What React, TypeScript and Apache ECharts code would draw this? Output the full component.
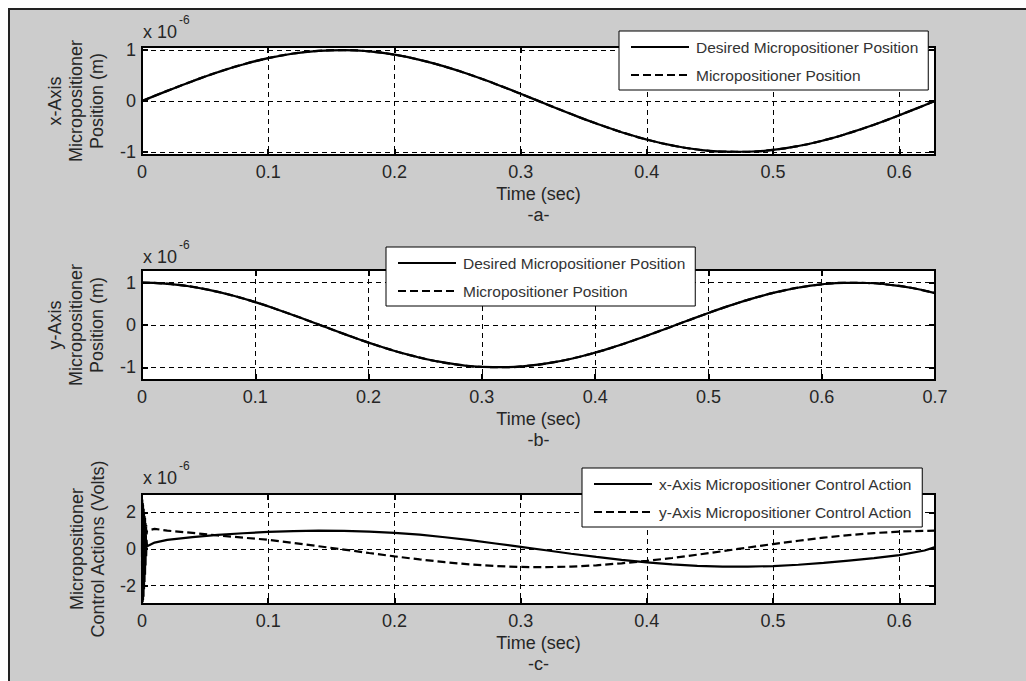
import React, { useEffect, useRef } from "react";
import * as echarts from "echarts";

// ---------- data ----------
const tA = [0, 0.02, 0.04, 0.06, 0.08, 0.1, 0.12, 0.14, 0.16, 0.18, 0.2, 0.22, 0.24, 0.26, 0.28, 0.3, 0.32, 0.34, 0.36, 0.38, 0.4, 0.42, 0.44, 0.46, 0.48, 0.5, 0.52, 0.54, 0.56, 0.58, 0.6, 0.62, 0.6283];
const xDesired = [0, 0.199, 0.389, 0.565, 0.717, 0.841, 0.932, 0.985, 1.0, 0.974, 0.909, 0.808, 0.675, 0.516, 0.335, 0.141, -0.058, -0.256, -0.443, -0.612, -0.757, -0.872, -0.952, -0.994, -0.996, -0.959, -0.883, -0.773, -0.631, -0.465, -0.279, -0.083, 0];
const xActual = [0, 0.199, 0.389, 0.565, 0.717, 0.841, 0.932, 0.985, 1.0, 0.974, 0.909, 0.808, 0.675, 0.516, 0.335, 0.141, -0.058, -0.256, -0.443, -0.612, -0.757, -0.872, -0.952, -0.994, -0.996, -0.959, -0.883, -0.773, -0.631, -0.465, -0.279, -0.083, 0];

const tB = [0, 0.02, 0.04, 0.06, 0.08, 0.1, 0.12, 0.14, 0.16, 0.18, 0.2, 0.22, 0.24, 0.26, 0.28, 0.3, 0.32, 0.34, 0.36, 0.38, 0.4, 0.42, 0.44, 0.46, 0.48, 0.5, 0.52, 0.54, 0.56, 0.58, 0.6, 0.62, 0.64, 0.66, 0.68, 0.7];
const yDesired = [1, 0.98, 0.921, 0.825, 0.697, 0.54, 0.362, 0.17, -0.029, -0.227, -0.416, -0.589, -0.737, -0.857, -0.942, -0.99, -0.998, -0.967, -0.897, -0.791, -0.654, -0.49, -0.307, -0.112, 0.087, 0.284, 0.469, 0.635, 0.776, 0.886, 0.96, 0.996, 0.993, 0.951, 0.874, 0.754];
const yActual = [1, 0.98, 0.921, 0.825, 0.697, 0.54, 0.362, 0.17, -0.029, -0.227, -0.416, -0.589, -0.737, -0.857, -0.942, -0.99, -0.998, -0.967, -0.897, -0.791, -0.654, -0.49, -0.307, -0.112, 0.087, 0.284, 0.469, 0.635, 0.776, 0.886, 0.96, 0.996, 0.993, 0.951, 0.874, 0.754];

const burstT = [0, 0.0002, 0.0004, 0.0006, 0.0008, 0.001, 0.0012, 0.0014, 0.0016, 0.0018, 0.002, 0.0022, 0.0024, 0.0026, 0.0028, 0.003, 0.0033, 0.0036];
const xCtrlBurst = [0, 2.7, -2.9, 2.5, -2.8, 2.2, -2.6, 1.9, -2.2, 1.6, -1.8, 1.3, -1.4, 1.0, -0.9, 0.8, -0.4, 0.5];
const yCtrlBurst = [0, -2.9, 2.6, -2.6, 2.4, -2.2, 2.2, -1.6, 2.0, -1.0, 1.8, -0.5, 1.7, 0.1, 1.5, 0.5, 1.3, 0.8];

const tC = [0.004, 0.01, 0.02, 0.04, 0.06, 0.08, 0.1, 0.12, 0.14, 0.16, 0.18, 0.2, 0.22, 0.24, 0.26, 0.28, 0.3, 0.32, 0.34, 0.36, 0.38, 0.4, 0.42, 0.44, 0.46, 0.48, 0.5, 0.52, 0.54, 0.56, 0.58, 0.6, 0.62, 0.6283];
const xCtrl = [0.15, 0.35, 0.5, 0.65, 0.77, 0.86, 0.93, 0.98, 1.0, 0.99, 0.95, 0.88, 0.78, 0.64, 0.48, 0.3, 0.12, -0.07, -0.26, -0.43, -0.59, -0.73, -0.84, -0.92, -0.96, -0.96, -0.93, -0.86, -0.76, -0.63, -0.5, -0.33, -0.08, 0.1];
const yCtrl = [1.0, 1.1, 1.0, 0.88, 0.74, 0.62, 0.5, 0.33, 0.15, -0.03, -0.22, -0.4, -0.57, -0.72, -0.84, -0.93, -0.98, -0.99, -0.96, -0.89, -0.78, -0.65, -0.49, -0.31, -0.12, 0.08, 0.27, 0.45, 0.62, 0.76, 0.87, 0.95, 0.99, 1.0];

const xTickLabelsA = [0, 0.1, 0.2, 0.3, 0.4, 0.5, 0.6];
const xTickLabelsB = [0, 0.1, 0.2, 0.3, 0.4, 0.5, 0.6, 0.7];
const yTickLabelsPos = [-1, 0, 1];
const yTickLabelsCtrl = [-2, 0, 2];

const NAME_DESIRED = "Desired Micropositioner Position";
const NAME_ACTUAL = "Micropositioner Position";
const NAME_XCTRL = "x-Axis Micropositioner Control Action";
const NAME_YCTRL = "y-Axis Micropositioner Control Action";

// ---------- helpers ----------
const FONT = '"Liberation Sans", Arial, Helvetica, sans-serif';
const TEXT = "#262626";
const FS = 18;

const pairs = (t: number[], v: number[]) => t.map((x, i) => [x, v[i]]);

const pick = (allowed: number[]) => (v: number) => {
  const m = allowed.find((a) => Math.abs(a - v) < 1e-6);
  return m === undefined ? "" : String(m);
};

const tick = { inside: true, length: 6, lineStyle: { color: "#000", width: 2 } };
const split = { show: true, lineStyle: { color: "#000", width: 1, type: [5, 4] } };
const noLine = { show: false, onZero: false };

function xAxes(gi: number, max: number, labels: number[], name: string) {
  return [
    {
      type: "value", gridIndex: gi, position: "bottom", min: 0, max, interval: 0.1,
      axisLine: noLine, axisTick: tick, splitLine: split,
      axisLabel: { margin: 8, color: TEXT, fontSize: FS, fontFamily: FONT, formatter: pick(labels) },
      name, nameLocation: "middle", nameGap: 28,
      nameTextStyle: { color: TEXT, fontSize: FS, fontFamily: FONT, lineHeight: 21 },
    },
    {
      type: "value", gridIndex: gi, position: "top", min: 0, max, interval: 0.1,
      axisLine: noLine, axisTick: tick, splitLine: { show: false }, axisLabel: { show: false },
    },
  ];
}

function yAxes(gi: number, min: number, max: number, splitNumber: number, labels: number[]) {
  return [
    {
      type: "value", gridIndex: gi, position: "left", min, max, splitNumber,
      axisLine: noLine, axisTick: tick, splitLine: split,
      axisLabel: { margin: 6, color: TEXT, fontSize: FS, fontFamily: FONT, formatter: pick(labels) },
    },
    {
      type: "value", gridIndex: gi, position: "right", min, max, splitNumber,
      axisLine: noLine, axisTick: tick, splitLine: { show: false }, axisLabel: { show: false },
    },
  ];
}

function line(name: string, data: number[][], gi: number, dashed: boolean, smooth: boolean) {
  return {
    type: "line", name, data, xAxisIndex: gi * 2, yAxisIndex: gi * 2,
    symbol: "none", smooth, z: dashed ? 2 : 3,
    itemStyle: { color: "#000" },
    lineStyle: { color: "#000", width: 2.2, type: dashed ? [8, 4] : "solid" },
  };
}

function legend(left: number, top: number, data: string[]) {
  return {
    left, top, orient: "vertical", data, selectedMode: false,
    itemWidth: 58, itemHeight: 14, itemGap: 12,
    padding: [8, 10, 7, 11],
    backgroundColor: "#fff", borderColor: "#000", borderWidth: 1,
    itemStyle: { opacity: 0 },
    textStyle: { color: "#333", fontSize: 15.5, fontFamily: FONT, padding: [0, 0, 0, 2] },
  };
}

function yTitle(x: number, y: number, text: string) {
  return {
    type: "text", x, y, rotation: Math.PI / 2, silent: true,
    style: { text, fill: TEXT, fontSize: FS, fontFamily: FONT, align: "center", verticalAlign: "middle", lineHeight: 21 },
  };
}

function exponent(y: number) {
  return [
    { type: "text", x: 143, y, silent: true, style: { text: "x 10", fill: TEXT, fontSize: FS, fontFamily: FONT, align: "left", verticalAlign: "middle" } },
    { type: "text", x: 179, y: y - 12, silent: true, style: { text: "-6", fill: TEXT, fontSize: 12, fontFamily: FONT, align: "left", verticalAlign: "middle" } },
  ];
}

export default function App() {
  const ref = useRef<HTMLDivElement>(null);
  useEffect(() => {
    if (!ref.current) return;
    const chart = echarts.init(ref.current, undefined, { renderer: "svg" });
    const gridBase = { left: 142, width: 793, show: true, backgroundColor: "#fff", borderColor: "#000", borderWidth: 2, containLabel: false };
    chart.setOption({
      animation: false,
      grid: [
        { ...gridBase, top: 47, height: 108 },
        { ...gridBase, top: 270, height: 110 },
        { ...gridBase, top: 494, height: 110 },
      ],
      xAxis: [
        ...xAxes(0, 0.6283, xTickLabelsA, "Time (sec)\n-a-"),
        ...xAxes(1, 0.7, xTickLabelsB, "Time (sec)\n-b-"),
        ...xAxes(2, 0.6283, xTickLabelsA, "Time (sec)\n-c-"),
      ],
      yAxis: [
        ...yAxes(0, -1.06, 1.06, 2, yTickLabelsPos),
        ...yAxes(1, -1.3, 1.3, 2, yTickLabelsPos),
        ...yAxes(2, -3, 3, 3, yTickLabelsCtrl),
      ],
      legend: [
        legend(619, 31, [NAME_DESIRED, NAME_ACTUAL]),
        legend(386, 247, [NAME_DESIRED, NAME_ACTUAL]),
        legend(582, 468, [NAME_XCTRL, NAME_YCTRL]),
      ],
      series: [
        line(NAME_DESIRED, pairs(tA, xDesired), 0, false, true),
        line(NAME_ACTUAL, pairs(tA, xActual), 0, true, true),
        line(NAME_DESIRED, pairs(tB, yDesired), 1, false, true),
        line(NAME_ACTUAL, pairs(tB, yActual), 1, true, true),
        line(NAME_XCTRL, pairs(burstT.concat(tC), xCtrlBurst.concat(xCtrl)), 2, false, false),
        line(NAME_YCTRL, pairs(burstT.concat(tC), yCtrlBurst.concat(yCtrl)), 2, true, false),
      ],
      graphic: [
        yTitle(76, 101, "x-Axis\nMicropositioner\nPosition (m)"),
        yTitle(76, 325, "y-Axis\nMicropositioner\nPosition (m)"),
        yTitle(87, 549, "Micropositioner\nControl Actions (Volts)"),
        ...exponent(32),
        ...exponent(257),
        ...exponent(478),
      ],
    });
    return () => chart.dispose();
  }, []);

  return (
    <div style={{ position: "fixed", left: 0, top: 0, width: 1026, height: 681, background: "#fff", overflow: "hidden" }}>
      <div
        style={{
          position: "absolute", left: 8, top: 8, width: 1018, height: 673, boxSizing: "border-box",
          background: "#cccccc", borderTop: "2px solid #222", borderLeft: "2px solid #222",
        }}
      />
      <div ref={ref} style={{ position: "absolute", left: 0, top: 0, width: 1026, height: 681 }} />
    </div>
  );
}
